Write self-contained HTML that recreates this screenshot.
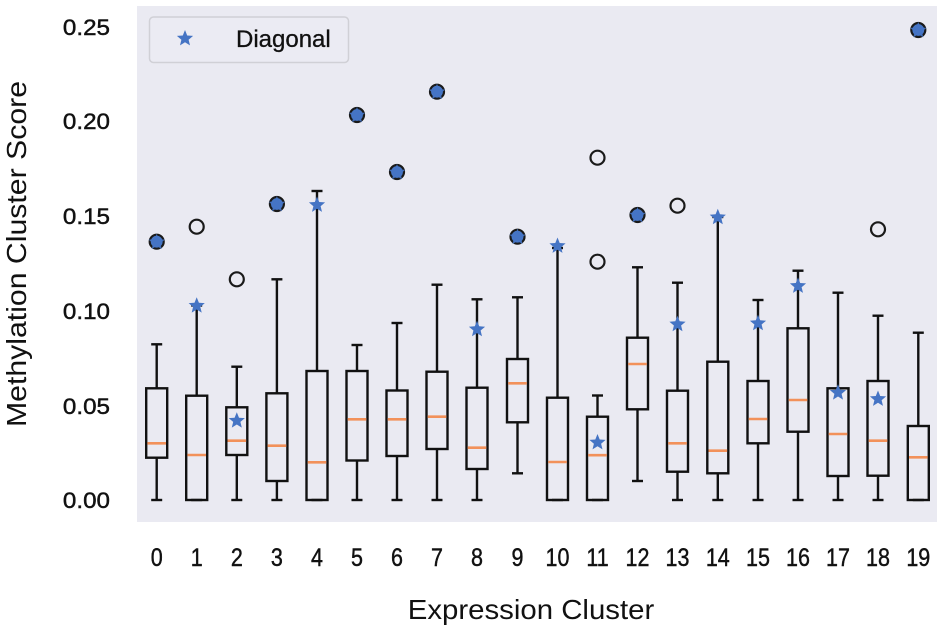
<!DOCTYPE html>
<html>
<head>
<meta charset="utf-8">
<style>
html,body{margin:0;padding:0;background:#fff;}
svg{display:block;}
text{font-family:"Liberation Sans",Arial,sans-serif;fill:#111;}
</style>
</head>
<body>
<svg width="945" height="631" viewBox="0 0 945 631" xmlns="http://www.w3.org/2000/svg">
<defs>
<path id="st" d="M0,-8.5 L2.2,-3.0 L8.1,-2.6 L3.6,1.2 L5.0,6.9 L0,3.8 L-5.0,6.9 L-3.6,1.2 L-8.1,-2.6 L-2.2,-3.0 Z" fill="#4574c4"/>
</defs>
<rect x="137" y="6" width="800" height="516" fill="#eaeaf2"/>

<!-- legend -->
<rect x="149.5" y="17" width="199" height="45.5" rx="4" fill="#ebebf3" stroke="#d0d0d6" stroke-width="1.5"/>
<use href="#st" x="185" y="38.5"/>
<text x="236" y="47" font-size="24" stroke="#111" stroke-width="0.3">Diagonal</text>

<!-- y tick labels -->
<g font-size="22" text-anchor="end" stroke="#111" stroke-width="0.45">
<text transform="translate(110,508) scale(1.1,1)">0.00</text>
<text transform="translate(110,414) scale(1.1,1)">0.05</text>
<text transform="translate(110,319) scale(1.1,1)">0.10</text>
<text transform="translate(110,224) scale(1.1,1)">0.15</text>
<text transform="translate(110,129) scale(1.1,1)">0.20</text>
<text transform="translate(110,35) scale(1.1,1)">0.25</text>
</g>

<!-- x tick labels -->
<g font-size="25" text-anchor="middle" stroke="#111" stroke-width="0.45">
<text transform="translate(156.7,566) scale(0.86,1)">0</text>
<text transform="translate(196.7,566) scale(0.86,1)">1</text>
<text transform="translate(236.8,566) scale(0.86,1)">2</text>
<text transform="translate(276.9,566) scale(0.86,1)">3</text>
<text transform="translate(317,566) scale(0.86,1)">4</text>
<text transform="translate(357,566) scale(0.86,1)">5</text>
<text transform="translate(397,566) scale(0.86,1)">6</text>
<text transform="translate(437,566) scale(0.86,1)">7</text>
<text transform="translate(477,566) scale(0.86,1)">8</text>
<text transform="translate(517.5,566) scale(0.86,1)">9</text>
<text transform="translate(557.5,566) scale(0.86,1)">10</text>
<text transform="translate(597.5,566) scale(0.86,1)">11</text>
<text transform="translate(637.5,566) scale(0.86,1)">12</text>
<text transform="translate(677.5,566) scale(0.86,1)">13</text>
<text transform="translate(717.8,566) scale(0.86,1)">14</text>
<text transform="translate(758,566) scale(0.86,1)">15</text>
<text transform="translate(798,566) scale(0.86,1)">16</text>
<text transform="translate(838,566) scale(0.86,1)">17</text>
<text transform="translate(878,566) scale(0.86,1)">18</text>
<text transform="translate(918.3,566) scale(0.86,1)">19</text>
</g>

<!-- axis titles -->
<text transform="translate(531,619) scale(1.05,1)" font-size="28" text-anchor="middle">Expression Cluster</text>
<text transform="translate(26,254) rotate(-90) scale(1.08,1)" font-size="28" text-anchor="middle">Methylation Cluster Score</text>

<!-- boxes -->
<g id="boxes" stroke="#111" stroke-width="2.4" fill="none"></g>
<g id="meds" stroke="#f2915a" stroke-width="2.6"></g>
<g id="outl" stroke="#1a1a1a" stroke-width="2.2" fill="none"></g>
<g id="filled"></g>
<g id="stars"></g>

<script>
(function(){
var NS="http://www.w3.org/2000/svg";
var B=[
[156.7,344.3,388.3,443.3,457.7,500],
[196.7,305.5,395.7,455,500,500],
[236.8,366.7,407.3,440.7,455,500],
[276.9,279.3,393.3,445.7,481,500],
[317,191,371,462.3,500,500],
[357,345,371,419.3,460.5,500],
[397,323,390.5,419.3,456,500],
[437,284.7,371.7,416.7,449,500],
[477,299.3,387.7,447.7,469,500],
[517.5,297.3,359,383.3,422.3,473.3],
[557.5,248,397.7,462,500,500],
[597.5,395.5,416.7,455.2,500,500],
[637.5,267.3,337.7,364,409.3,481],
[677.5,282.7,390.7,443.3,471.7,500],
[717.8,217,361.7,450.7,473.3,500],
[758,300,381,419,443.3,500],
[798,270.7,328.3,400,431.7,500],
[838,292.7,388.3,434,476,500],
[878,315.7,381,440.7,475.7,500],
[918.3,332.7,426,457.3,500,500]];
function el(t,a,p){var e=document.createElementNS(NS,t);for(var k in a)e.setAttribute(k,a[k]);p.appendChild(e);return e;}
var gb=document.getElementById("boxes"),gm=document.getElementById("meds");
var hw=10.5,cw=5.5;
B.forEach(function(b){
var x=b[0];
el("rect",{x:x-hw,y:b[2],width:2*hw,height:b[4]-b[2]},gb);
if(b[2]>b[1]) el("line",{x1:x,y1:b[1],x2:x,y2:b[2]},gb);
if(b[5]>b[4]) el("line",{x1:x,y1:b[4],x2:x,y2:b[5]},gb);
el("line",{x1:x-cw,y1:b[1],x2:x+cw,y2:b[1]},gb);
el("line",{x1:x-cw,y1:b[5],x2:x+cw,y2:b[5]},gb);
el("line",{x1:x-hw+1.2,y1:b[3],x2:x+hw-1.2,y2:b[3]},gm);
});
var go=document.getElementById("outl");
[[196.7,226.7],[236.8,279.3],[597.5,157.7],[597.5,261.7],[677.5,205.7],[878,229.3]].forEach(function(p){
el("circle",{cx:p[0],cy:p[1],r:7},go);
});
var gf=document.getElementById("filled");
var gs=document.getElementById("stars");
[[156.7,241.7],[276.9,204],[357,115],[397,172],[437,91.7],[517.5,236.7],[637.5,215],[918.3,30]].forEach(function(p){
el("circle",{cx:p[0],cy:p[1],r:7,fill:"#4676c6",stroke:"#1a1a1a","stroke-width":2.2},gf);
el("use",{href:"#st",x:p[0],y:p[1]+0.5,opacity:"0.9"},gf);
});
[[196.7,305.7],[236.8,420.7],[317,205],[477,329.3],[557.5,246],[597.5,442.5],[677.5,324.3],[717.8,217.3],[758,323.3],[798,286],[838,392.7],[878,399]].forEach(function(p){
el("use",{href:"#st",x:p[0],y:p[1]},gs);
});
})();
</script>
</svg>
</body>
</html>
